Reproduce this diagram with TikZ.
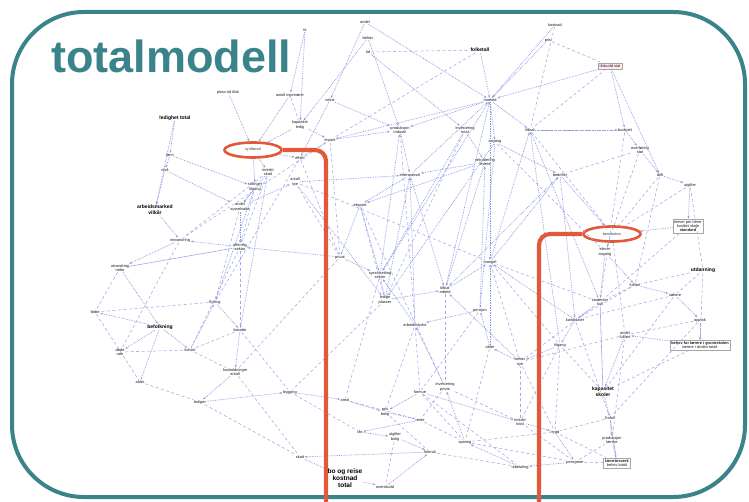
\documentclass[tikz,border=0pt]{standalone}
\usepackage{fontspec}
\setmainfont{Liberation Sans}
\usetikzlibrary{shapes.geometric,arrows.meta}
\definecolor{frame}{RGB}{58,131,139}
\definecolor{mark}{RGB}{226,88,58}
\definecolor{wire}{RGB}{135,146,228}
\tikzset{
  lab/.style={font=\fontsize{3.9}{4.3}\selectfont, text=black!90, align=center, inner sep=0.6pt},
  bl/.style={font=\fontsize{5}{5.6}\selectfont\bfseries, text=black, align=center, inner sep=0.8pt},
  ring/.style={draw=mark, line width=2.6pt, ellipse, minimum width=57pt, minimum height=15pt, inner sep=0pt,
    font=\fontsize{3.6}{4}\selectfont, text=black!80},
  link/.style={draw=wire, densely dotted, line width=0.7pt, -{Stealth[length=2.6pt,width=2pt]}},
  dlink/.style={draw=wire!80, dash pattern=on 3pt off 2.5pt, line width=0.55pt},
  slink/.style={draw=wire!80, line width=0.6pt},
  pole/.style={draw=mark, line width=4.2pt, rounded corners=11pt},
  border/.style={draw=frame, line width=4pt, rounded corners=72pt},
  boxed/.style={draw=black!35, line width=0.4pt, inner sep=1.5pt}
}
\begin{document}
\begin{tikzpicture}[x=1pt, y=-1pt]
\useasboundingbox (0,0) rectangle (749,502);
\fill[white] (0,0) rectangle (749,502);

% model variables
\foreach \i/\x/\y/\t in {
  1/305/30/{tk},
  2/365/22/{andel},
  3/368/38/{behov},
  4/368/52/{tid},
  5/228/92/{pluss tid tilsk},
  6/290/95/{antall ingeniører},
  8/330/100/{vekst},
  9/300/125/{kapasitet\\ledig},
  11/300/158/{effekt},
  12/268/172/{inntekt\\skatt},
  13/170/155/{lønn},
  14/165/170/{nivå},
  15/255/187/{stillinger\\tilgang},
  16/240/207/{andel\\sysselsatte},
  17/295/182/{antall\\nye},
  19/330/140/{import},
  20/400/130/{produksjon\\industri},
  21/410/175/{etterspørsel},
  22/360/205/{eksport},
  24/555/25/{kostnad},
  25/548/40/{pris},
  27/490/100/{marked},
  28/465/130/{investering\\total},
  29/495/142/{avgang},
  30/485/162/{rekruttering\\ledere},
  31/530/130/{tilbud},
  32/560/175/{bedrifter},
  33/625/130/{budsjett},
  34/640/150/{overføring\\stat},
  35/660/175/{drift},
  36/690/185/{utgifter},
  39/605/252/{elever\\avgang},
  41/675/295/{søkere},
  42/700/320/{opptak},
  44/635/285/{fullført},
  45/600/302/{studenter\\kull},
  46/575/320/{kandidater},
  47/625/335/{andel\\fullført},
  49/610/418/{frafall},
  52/560/345/{tilgang},
  53/520/362/{behov\\nye},
  54/490/347/{alder},
  55/480/310/{pensjon},
  56/415/325/{arbeidsstyrke},
  57/380/275/{sysselsetting\\sektor},
  58/385/300/{ledige\\plasser},
  59/445/290/{tilbud\\arbeid},
  60/490/262/{mangel},
  61/340/257/{privat},
  62/240/247/{offentlig\\sektor},
  63/180/240/{innvandring},
  64/120/268/{utvandring\\netto},
  66/95/312/{fødte},
  67/120/352/{døde\\rate},
  68/140/382/{alder},
  69/190/350/{kohort},
  70/215/302/{flytting},
  71/240/330/{bosatte},
  72/235/372/{husholdninger\\antall},
  73/200/402/{boliger},
  74/290/392/{bygging},
  75/345/400/{areal},
  76/385/412/{pris\\bolig},
  77/420/420/{rente},
  78/360/432/{lån},
  79/395/437/{utgifter\\bolig},
  80/430/452/{forbruk},
  81/300/457/{skatt},
  83/385/487/{overskudd},
  84/420/392/{formue},
  85/520/422/{inntekt\\total},
  86/555/432/{trygd},
  87/575/462/{pensjoner},
  88/520/467/{utbetaling},
  89/465/442/{sparing},
  90/445/387/{investering\\privat}}
  \node[lab] (n\i) at (\x,\y) {\t};

% highlighted variables
\foreach \i/\x/\y/\t in {
  7/175/118/{ledighet total},
  18/155/210/{arbeidsmarked\\vilkår},
  23/480/50/{folketall},
  40/703/270/{utdanning},
  65/160/327/{befolkning},
  48/603/392/{kapasitet\\skoler}}
  \node[bl] (n\i) at (\x,\y) {\t};

\node[bl, font=\fontsize{6.5}{7}\selectfont\bfseries] (n82) at (345,478) {bo og reise\\kostnad\\total};
\node[lab, boxed, fill=red!8] (n26) at (610,66) {tilskudd stat};
\node[lab, boxed] (n37) at (688,226) {elever per lærer\\kvalitet skole\\\textbf{standard}};
\node[lab, boxed] (n43) at (700,345) {\textbf{behov for lærere i grunnskolen}\\lærere i skolen totalt};
\node[lab, boxed] (n51) at (617,463) {\textbf{lærerårsverk}\\behov totalt};
\node[lab] (n50) at (612,440) {produksjon\\lærere};

% marked variables
\node[ring] (n10) at (253,150) {ny tilførsel};
\node[ring] (n38) at (612,234) {lærer\\behov};

% causal links
\foreach \a/\b in {
  1/9,1/6,2/27,3/20,4/28,23/27,24/27,25/27,26/27,26/35,26/33,27/29,27/20,27/19,27/31,27/60,
  27/57,28/30,29/32,30/21,30/22,31/33,32/38,33/34,34/35,35/36,36/37,37/38,38/39,39/44,39/45,
  44/41,41/42,42/43,43/47,45/46,46/52,47/48,48/49,49/50,50/51,52/53,53/54,54/55,55/56,56/57,
  57/58,58/59,59/60,60/32,61/57,61/62,62/63,63/64,64/65,65/66,65/67,65/68,65/69,69/70,70/71,
  71/72,72/73,73/74,74/75,75/76,76/77,77/78,78/79,79/80,80/81,81/82,82/83,83/80,84/76,84/85,
  85/86,86/87,87/88,88/89,89/90,90/56,5/10,6/10,7/13,8/11,9/10,10/11,10/12,10/15,11/19,12/16,
  13/14,14/18,15/16,16/17,17/21,18/63,19/20,20/21,21/22,22/61,16/62,15/70,12/71,17/58,21/59,
  22/57,9/19,8/20,3/9,2/8,7/18,13/15,14/16,29/55,30/59,31/45,32/46,
  21/27,56/21,58/21,59/27,60/31,57/20,55/30,54/60,53/59,52/31,28/57,29/58,32/59,46/60}
  \draw[link] (n\a) -- (n\b);

\foreach \a/\b in {
  35/44,36/40,40/41,40/43,44/45,45/53,46/49,47/50,52/85,53/86,54/89,55/84,56/76,57/75,58/74,
  59/90,60/52,61/72,62/69,63/67,64/66,66/68,68/73,67/69,69/72,71/74,72/81,73/81,74/78,75/77,
  76/80,77/89,79/83,84/88,85/87,86/51,87/50,88/80,89/87,90/85,23/19,24/31,25/26,26/31,
  4/23,6/9,37/45,38/47,43/48,42/49,41/48,33/45,34/39,28/58,20/56,19/63,11/70,12/63,17/60,
  22/90,60/53,29/39,31/38,45/60,22/58,19/61,11/61,17/61,12/62,16/70,15/62,62/71,70/66,71/69,
  56/84,84/89,90/77,89/86,85/53,86/52,87/51,49/86,48/52,47/53,44/46,41/46,42/47,40/44,36/38,
  35/38,34/32,33/31}
  \draw[dlink] (n\a) -- (n\b);

\draw[slink] (n64) -- (n62);
\draw[slink] (n45) -- (n48);
\draw[slink] (n49) -- (n51);

% frame and title
\draw[border] (12,497) rectangle (745,12);
\node[anchor=base west, inner sep=0pt, text=frame,
      font=\fontsize{45}{45}\selectfont\bfseries] (title) at (51,73) {totalmodell};

% call-out lines from the marked variables
\coordinate (f1) at (326,502);
\coordinate (f2) at (539,502);
\draw[pole] (n10.east) -| (f1);
\draw[pole] (n38.west) -| (f2);
\end{tikzpicture}
\end{document}
